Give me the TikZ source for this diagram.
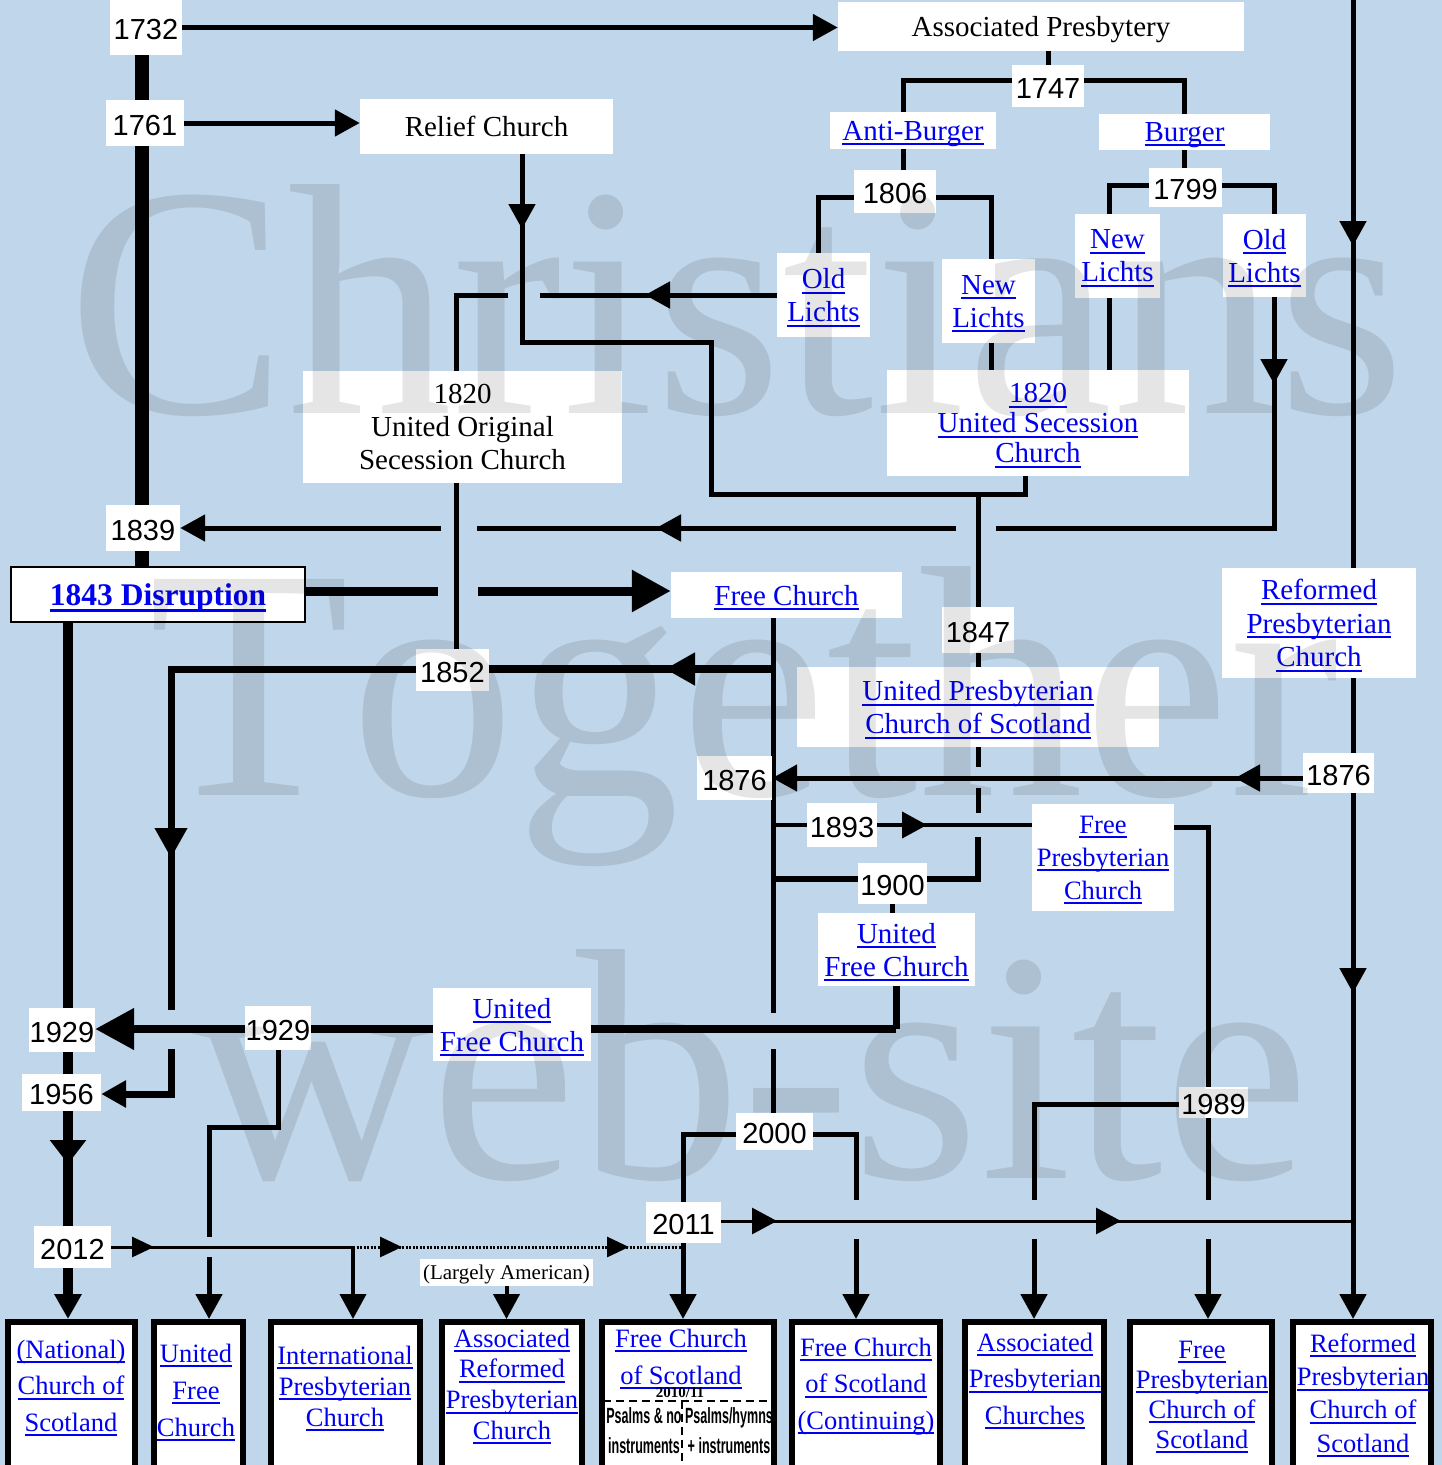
\documentclass[tikz,border=0pt]{standalone}
\usepackage{fontspec}
\setmainfont{Liberation Serif}
\newfontfamily\arialf{Liberation Sans}
\newfontfamily\wmf{Liberation Serif}[Kerning=Off]
\usepackage{graphicx}
\usetikzlibrary{arrows.meta}
\definecolor{bgblue}{RGB}{192,214,234}
\definecolor{lnk}{RGB}{0,0,240}
\newsavebox\lkbox
\newcommand\lk[1]{\sbox\lkbox{#1}\rlap{\rule[-5pt]{\wd\lkbox}{2pt}}\usebox\lkbox}
\newcommand\lkb[1]{\sbox\lkbox{#1}\rlap{\rule[-7pt]{\wd\lkbox}{3pt}}\usebox\lkbox}
\newcommand\nar[1]{\scalebox{0.57}[1]{#1}}
\pgfdeclarelayer{bgl}\pgfdeclarelayer{lines}\pgfdeclarelayer{wm}
\pgfsetlayers{bgl,lines,main,wm}
\tikzset{
 yr/.style={fill=white, inner sep=0pt, text height=24pt, text depth=0pt, font=\arialf\fontsize{29}{34}\selectfont},
 ch/.style={fill=white, inner sep=0pt, align=center, text depth=0pt, font=\fontsize{29}{33}\selectfont},
 lnkt/.style={text=lnk},
 bbox/.style={draw=black, line width=6pt, fill=white, anchor=north, minimum height=170pt, inner sep=0pt},
 btxt/.style={text=lnk, align=center, inner sep=0pt, text depth=0pt},
 w3/.style={line width=3pt}, w4/.style={line width=4pt}, w5/.style={line width=5pt},
 w6/.style={line width=6pt}, w7/.style={line width=7pt}, w8/.style={line width=8pt},
 w9/.style={line width=9pt}, w10/.style={line width=10pt}, w14/.style={line width=14pt},
 tipS/.style={-{Triangle[length=25pt,width=26pt]}},
 tipM/.style={-{Triangle[length=30pt,width=31pt]}},
 tipL/.style={-{Triangle[length=39pt,width=40pt]}},
 tipT/.style={-{Triangle[length=22pt,width=20pt]}},
 wmark/.style={font=\wmf\fontsize{330}{330}\selectfont, text opacity=0.1, anchor=base, inner sep=0pt}
}
\begin{document}
\begin{tikzpicture}[x=1pt,y=-1pt]
\useasboundingbox (0,0) rectangle (1442,1465);
\begin{pgfonlayer}{bgl}
\fill[bgblue] (0,0) rectangle (1442,1465);
\end{pgfonlayer}

% ---------- year labels ----------
\node[yr, minimum width=72pt, minimum height=55pt] (y1732) at (146,27.5) {1732};
\node[yr, minimum width=78pt, minimum height=46pt] (y1761) at (145,123) {1761};
\node[yr, minimum width=72pt, minimum height=42pt] (y1747) at (1048,86) {1747};
\node[yr, minimum width=82pt, minimum height=43pt] (y1806) at (895,191.5) {1806};
\node[yr, minimum width=73pt, minimum height=39pt] (y1799) at (1185.5,187.5) {1799};
\node[yr, minimum width=74pt, minimum height=46pt] (y1839) at (143,528) {1839};
\node[yr, minimum width=73pt, minimum height=42pt] (y1852) at (452.5,670) {1852};
\node[yr, minimum width=72pt, minimum height=46pt] (y1847) at (978,630) {1847};
\node[yr, minimum width=75pt, minimum height=44pt] (y1876a) at (734.5,778) {1876};
\node[yr, minimum width=71pt, minimum height=40pt] (y1876b) at (1338.5,773) {1876};
\node[yr, minimum width=70pt, minimum height=44pt] (y1893) at (842,825) {1893};
\node[yr, minimum width=69pt, minimum height=41pt] (y1900) at (892.5,883.5) {1900};
\node[yr, minimum width=66pt, minimum height=44pt] (y1929a) at (62,1030) {1929};
\node[yr, minimum width=66pt, minimum height=44pt] (y1929b) at (278,1028) {1929};
\node[yr, minimum width=79pt, minimum height=37pt] (y1956) at (61.5,1092.5) {1956};
\node[yr, minimum width=77pt, minimum height=37pt] (y2000) at (774.5,1131.5) {2000};
\node[yr, minimum width=69pt, minimum height=31pt] (y1989) at (1213.5,1102.5) {1989};
\node[yr, minimum width=75pt, minimum height=41pt] (y2011) at (683.5,1222.5) {2011};
\node[yr, minimum width=77pt, minimum height=42pt] (y2012) at (72.5,1247) {2012};

% ---------- church labels ----------
\node[ch, minimum width=406pt, minimum height=49pt] (ap) at (1041,26.5) {Associated Presbytery};
\node[ch, minimum width=253pt, minimum height=55pt] (relief) at (486.5,126.5) {Relief Church};
\node[ch, lnkt, minimum width=166pt, minimum height=37pt] (antib) at (913,130.5) {\lk{Anti-Burger}};
\node[ch, lnkt, minimum width=171pt, minimum height=36pt] (burger) at (1184.5,132) {\lk{Burger}};
\node[ch, lnkt, minimum width=93pt, minimum height=84pt] (olA) at (823.5,295) {\lk{Old}\\\lk{Lichts}};
\node[ch, lnkt, minimum width=93pt, minimum height=84pt] (nlA) at (988.5,301) {\lk{New}\\\lk{Lichts}};
\node[ch, lnkt, minimum width=85pt, minimum height=84pt] (nlB) at (1117.5,256) {\lk{New}\\\lk{Lichts}};
\node[ch, lnkt, minimum width=83pt, minimum height=83pt] (olB) at (1264.5,255.5) {\lk{Old}\\\lk{Lichts}};
\node[ch, lnkt, font=\fontsize{29}{30}\selectfont, minimum width=302pt, minimum height=106pt] (usc) at (1038,423) {\lk{1820}\\\lk{United Secession}\\\lk{Church}};
\node[ch, minimum width=319pt, minimum height=112pt] (uos) at (462.5,427) {1820\\United Original\\Secession Church};
\node[ch, lnkt, draw=black, line width=2pt, font=\bfseries\fontsize{31.5}{34}\selectfont, minimum width=294pt, minimum height=55pt] (disr) at (158,594.5) {\lkb{1843 Disruption}};
\node[ch, lnkt, minimum width=231pt, minimum height=46pt] (fc) at (786.5,595) {\lk{Free Church}};
\node[ch, lnkt, font=\fontsize{29}{33.5}\selectfont, minimum width=194pt, minimum height=110pt] (rpc) at (1319,623) {\lk{Reformed}\\\lk{Presbyterian}\\\lk{Church}};
\node[ch, lnkt, minimum width=362pt, minimum height=80pt] (upc) at (978,707) {\lk{United Presbyterian}\\\lk{Church of Scotland}};
\node[ch, lnkt, font=\fontsize{26.5}{33}\selectfont, minimum width=142pt, minimum height=107pt] (fpc) at (1103,857.5) {\lk{Free}\\\lk{Presbyterian}\\\lk{Church}};
\node[ch, lnkt, minimum width=157pt, minimum height=73pt] (ufc1) at (896.5,949.5) {\lk{United}\\\lk{Free Church}};
\node[ch, lnkt, minimum width=158pt, minimum height=73pt] (ufc2) at (512,1024.5) {\lk{United}\\\lk{Free Church}};
\node[ch, font=\fontsize{21}{24}\selectfont, minimum width=173pt, minimum height=27pt] (la) at (506.5,1272.5) {(Largely American)};

% ---------- bottom boxes ----------
\node[bbox, minimum width=127pt] (b1) at (71.5,1319) {};
\node[bbox, minimum width=89pt] (b2) at (198.5,1319) {};
\node[bbox, minimum width=149pt] (b3) at (345.5,1319) {};
\node[bbox, minimum width=140pt] (b4) at (512,1319) {};
\node[bbox, minimum width=172pt] (b5) at (688,1319) {};
\node[bbox, minimum width=148pt] (b6) at (866,1319) {};
\node[bbox, minimum width=139pt] (b7) at (1034.5,1319) {};
\node[bbox, minimum width=142pt] (b8) at (1201,1319) {};
\node[bbox, minimum width=138pt] (b9) at (1362,1319) {};

\node[btxt, font=\fontsize{26.5}{36.5}\selectfont] (t1) at (71,1385.5) {\lk{(National)}\\\lk{Church of}\\\lk{Scotland}};
\node[btxt, font=\fontsize{26.5}{37}\selectfont] (t2) at (196,1390) {\lk{United}\\\lk{Free}\\\lk{Church}};
\node[btxt, font=\fontsize{26.5}{31}\selectfont] (t3) at (345,1386) {\lk{International}\\\lk{Presbyterian}\\\lk{Church}};
\node[btxt, font=\fontsize{26.5}{30.7}\selectfont] (t4) at (512,1384) {\lk{Associated}\\\lk{Reformed}\\\lk{Presbyterian}\\\lk{Church}};
\node[btxt, font=\fontsize{26.5}{37}\selectfont] (t5) at (681,1356.5) {\lk{Free Church}\\\lk{of Scotland}};
\node[btxt, font=\fontsize{26.5}{36.5}\selectfont] (t6) at (866,1383.5) {\lk{Free Church}\\\lk{of Scotland}\\\lk{(Continuing)}};
\node[btxt, font=\fontsize{26.5}{36.5}\selectfont] (t7) at (1035,1378.5) {\lk{Associated}\\\lk{Presbyterian}\\\lk{Churches}};
\node[btxt, font=\fontsize{26.5}{30}\selectfont] (t8) at (1202,1394.5) {\lk{Free}\\\lk{Presbyterian}\\\lk{Church of}\\\lk{Scotland}};
\node[btxt, font=\fontsize{26.5}{33.3}\selectfont] (t9) at (1363,1393) {\lk{Reformed}\\\lk{Presbyterian}\\\lk{Church of}\\\lk{Scotland}};

\node[inner sep=0pt, font=\bfseries\fontsize{15}{16}\selectfont] (d1011) at (680,1393) {2010/11};
\node[inner sep=0pt, align=center, text depth=0pt, font=\arialf\bfseries\fontsize{22}{30}\selectfont] (ps1) at (644,1431) {\nar{Psalms \& no}\\\nar{instruments}};
\node[inner sep=0pt, align=center, text depth=0pt, font=\arialf\bfseries\fontsize{22}{30}\selectfont] (ps2) at (729,1431) {\nar{Psalms/hymns}\\\nar{+ instruments}};

% ---------- connectors ----------
\begin{pgfonlayer}{lines}
\draw[w5,tipS] (y1732.east) -- (y1732.east -| ap.west);
\coordinate (tr) at (142,0);
\draw[w14] (tr |- y1732.south) -- (tr |- y1761.north);
\draw[w14] (tr |- y1761.south) -- (tr |- y1839.north);
\draw[w14] (tr |- y1839.south) -- (tr |- disr.north);
\draw[w5,tipS] (y1761.east) -- (y1761.east -| relief.west);

% Associated Presbytery split
\draw[w5] (ap.south -| y1747) -- (y1747.north);
\coordinate (b47L) at (903,80); \coordinate (b47R) at (1184,80);
\draw[w5] (antib.north -| b47L) -- (b47L) -- (b47R) -- (burger.north -| b47R);
\draw[w5] (antib.south -| b47L) -- (y1806.north -| b47L);
\draw[w5] (burger.south -| b47R) -- (y1799.north -| b47R);
\coordinate (b06L) at (818,197); \coordinate (b06R) at (991,197);
\draw[w5] (olA.north -| b06L) -- (b06L) -- (b06R) -- (nlA.north -| b06R);
\coordinate (b99L) at (1109,185); \coordinate (b99R) at (1274,185);
\draw[w5] (nlB.north -| b99L) -- (b99L) -- (b99R) -- (olB.north -| b99R);
\draw[w5] (nlB.south -| b99L) -- (usc.north -| b99L);
\draw[w5] (nlA.south -| b06R) -- (usc.north -| b06R);

% Old Lichts (Burger) -> 1839
\coordinate (o1) at (1274,528);
\draw[w5] (olB.south -| o1) -- (o1) -- (996,528);
\draw[w5] (956,528) -- (477,528);
\draw[w5,tipS] (441,528) -- (y1839.east |- o1);
\draw[w5,tipS] (1274,358) -- (1274,384);
\draw[w5,tipS] (682,528) -- (656,528);

% Old Lichts (Anti-Burger) -> Original Secession
\coordinate (o2) at (456,295);
\draw[w5] (olA.west) -- (540,295);
\draw[w5] (508,295) -- (o2) -- (uos.north -| o2);
\draw[w5,tipS] (669,295) -- (645,295);
\draw[w5] (uos.south -| o2) -- (y1852.north -| o2);

% Relief -> 1847
\coordinate (r1) at (522,342); \coordinate (r2) at (711,342);
\coordinate (r3) at (711,494); \coordinate (r4) at (1025,494);
\draw[w5] (relief.south -| r1) -- (r1) -- (r2) -- (r3) -- (r4) -- (usc.south -| r4);
\draw[w5,tipS] (522,204) -- (522,229);
\coordinate (u47) at (978,494);
\draw[w5] (u47) -- (y1847.north);
\draw[w5] (y1847.south) -- (upc.north);
\draw[w5] (upc.south) -- (978,767);
\draw[w5] (978,788) -- (978,813);
\coordinate (c1900) at (978,879);
\coordinate (fx) at (773,0);
\draw[w6] (978,837) -- (c1900) -- (c1900 -| y1900.east);
\draw[w6] (c1900 -| y1900.west) -- (c1900 -| fx);
\draw[w5] (y1900.south) -- (y1900.south |- ufc1.north);

% Disruption
\coordinate (dl) at (0,591);
\draw[w9] (disr.east |- dl) -- (438,591);
\draw[w9,tipL] (478,591) -- (fc.west |- dl);
\coordinate (tb) at (68,0);
\draw[w10] (tb |- disr.south) -- (tb |- y1929a.north);
\draw[w10] (tb |- y1929a.south) -- (tb |- y1956.north);
\draw[w10] (tb |- y1956.south) -- (tb |- y2012.north);
\draw[w10,-{Triangle[length=24pt,width=35pt]}] (68,1130) -- (68,1164);
\draw[w10,tipS] (tb |- y2012.south) -- (tb |- b1.north);

% Free Church trunk
\draw[w5] (fc.south -| fx) -- (773,1013);
\draw[w5] (773,1049) -- (y2000.north -| fx);

% 1852
\coordinate (c52) at (0,669); \coordinate (k1) at (171,669);
\draw[w8] (fx |- c52) -- (y1852.east |- c52);
\draw[w8,tipM] (696,669) -- (665,669);
\draw[w7] (y1852.west |- c52) -- (k1) -- (171,1010);
\draw[w7,tipM] (171,827) -- (171,858);
\coordinate (k2) at (171,1094);
\draw[w7,tipS] (171,1049) -- (k2) -- (k2 -| y1956.east);

% 1876
\coordinate (l76) at (0,778);
\draw[w5,tipS] (y1876b.west |- l76) -- (y1876a.east |- l76);
\draw[w5,tipS] (1262,778) -- (1235,778);

% 1893
\draw[w4] (fx |- y1893) -- (y1893.west);
\draw[w4] (y1893.east) -- (y1893.east -| fpc.west);
\draw[w4,tipS] (900,825) -- (927,825);

% Free Presbyterian and 1989
\coordinate (f1) at (1208,827);
\draw[w5] (fpc.east |- f1) -- (f1) -- (1208,1200);
\draw[w5,tipS] (1208,1239) -- (b8.north -| f1);
\coordinate (f2) at (1034,1104);
\draw[w5] (y1989.west |- f2) -- (f2) -- (1034,1200);
\draw[w5,tipS] (1034,1239) -- (b7.north -| f2);

% 1929
\coordinate (c29) at (896,1029);
\draw[w7] (ufc1.south -| c29) -- (c29);
\draw[w8] (c29) -- (c29 -| ufc2.east);
\draw[w8] (ufc2.west |- c29) -- (y1929b.east |- c29);
\draw[w8,tipL] (y1929b.west |- c29) -- (y1929a.east |- c29);
\coordinate (m1) at (278,1127); \coordinate (m2) at (209,1127);
\draw[w5] (y1929b.south) -- (m1) -- (m2) -- (209,1237);
\draw[w5,tipS] (209,1257) -- (b2.north -| m2);

% 2000
\coordinate (z1) at (683,1134); \coordinate (z2) at (856,1134);
\draw[w5] (y2011.north -| z1) -- (z1) -- (y2000.west |- z1);
\draw[w5] (y2000.east |- z1) -- (z2) -- (856,1200);
\draw[w5,tipS] (856,1239) -- (b6.north -| z2);
\draw[w5,tipS] (y2011.south -| z1) -- (b5.north -| z1);

% 2011
\coordinate (rv) at (1353,0);
\coordinate (e1) at (1353,1221);
\draw[w3] (y2011.east |- e1) -- (e1);
\draw[w3,tipS] (751,1221) -- (777,1221);
\draw[w3,tipS] (1096,1221) -- (1121,1221);

% 2012
\coordinate (d1) at (353,1247);
\draw[w3] (y2012.east) -- (d1);
\draw[w3,tipT] (131,1247) -- (154,1247);
\draw[w4,tipS] (d1) -- (b3.north -| d1);
\draw[w3,dash pattern=on 2pt off 1.5pt] (d1) -- (z1 |- d1);
\draw[w3,tipT] (380,1247) -- (402,1247);
\draw[w3,tipT] (607,1247) -- (629,1247);
\draw[w4,tipS] (la.south) -- (la.south |- b4.north);

% Reformed Presbyterian
\draw[w5,tipS] (rv) -- (rv |- b9.north);
\draw[w5,tipS] (1353,220) -- (1353,246);
\draw[w5,tipS] (1353,967) -- (1353,993);
\end{pgfonlayer}

% dashed divisions in Free Church of Scotland box
\draw[line width=2.5pt, dash pattern=on 8pt off 5pt] (603,1401) -- (772,1401);
\draw[line width=2.5pt, dash pattern=on 8pt off 5pt] (682,1401) -- (682,1468);

% ---------- watermark ----------
\begin{pgfonlayer}{wm}
\node[wmark] (wm1) at (737,413) {Christians};
\node[wmark] (wm2) at (744,795) {Together};
\node[wmark] (wm3) at (751,1178) {web-site};
\end{pgfonlayer}
\end{tikzpicture}
\end{document}
